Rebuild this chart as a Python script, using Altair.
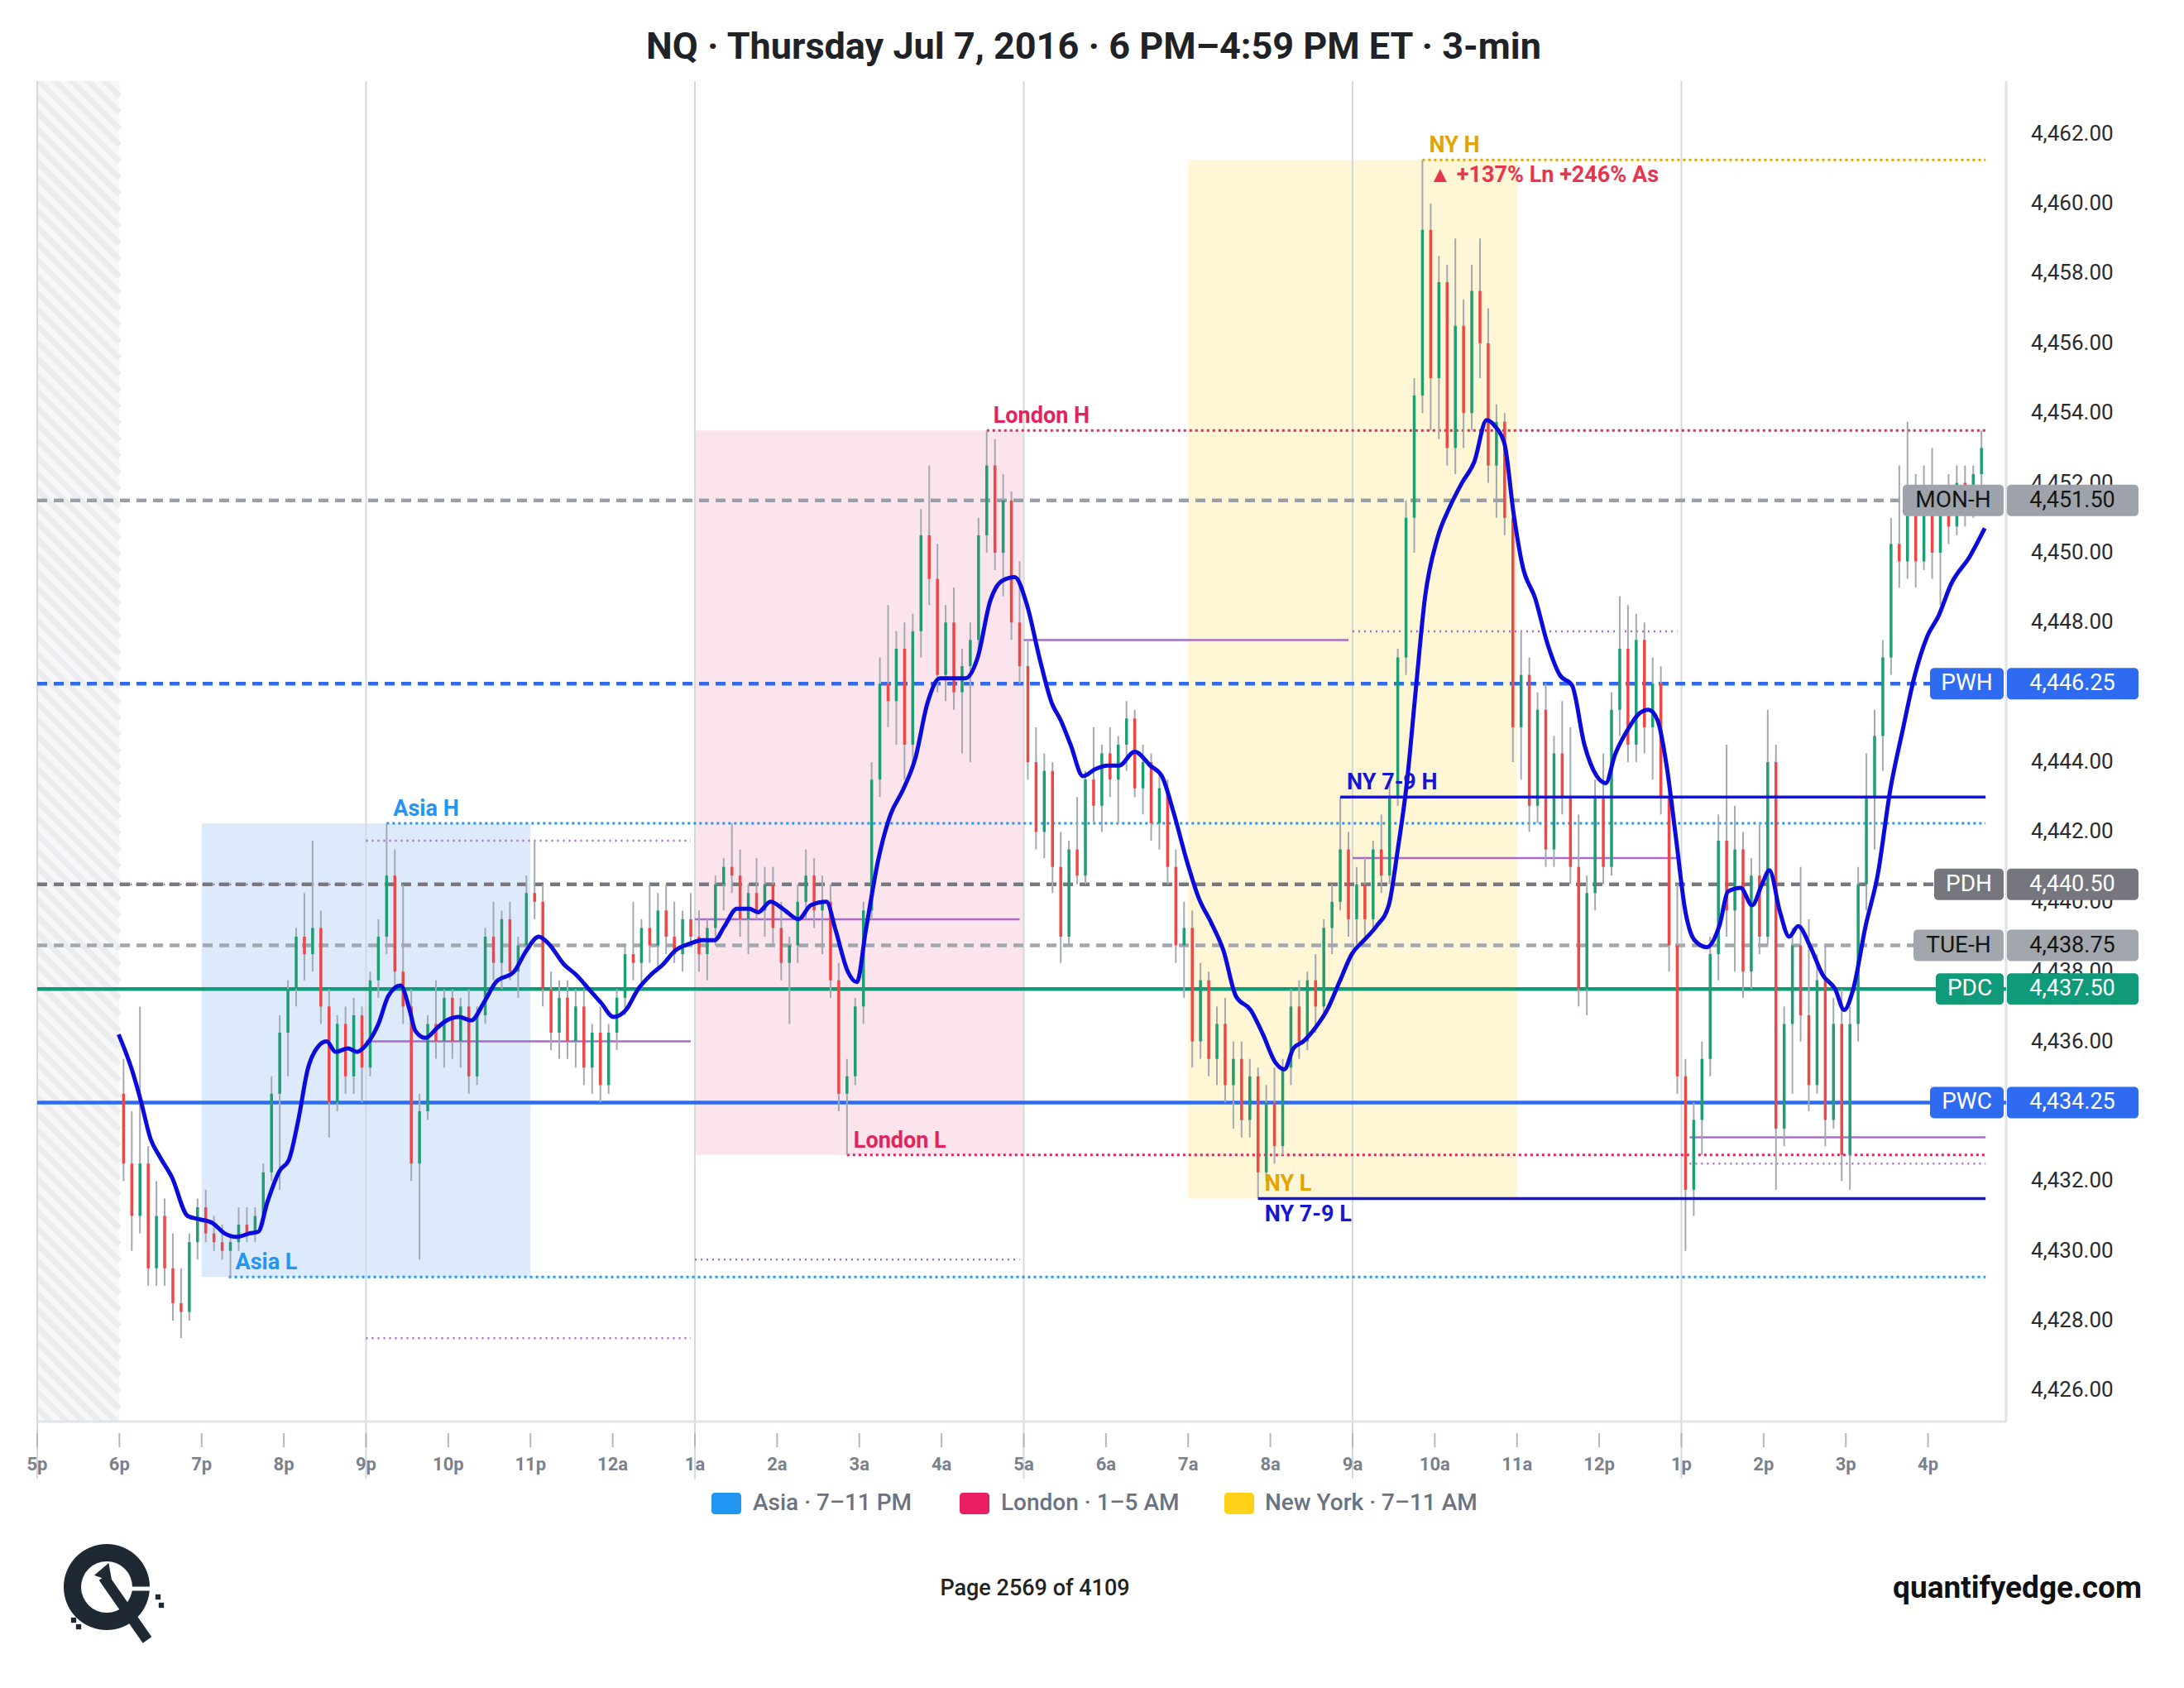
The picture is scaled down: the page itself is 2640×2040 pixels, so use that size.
import altair as alt
import pandas as pd

FONT = "Roboto"
W, H = 2380, 1620
X_MAX = 23.95
Y_MIN, Y_MAX = 4425.11, 4463.51

TITLE = "NQ · Thursday Jul 7, 2016 · 6 PM–4:59 PM ET · 3-min"
X_LABELS = ["5p", "6p", "7p", "8p", "9p", "10p", "11p", "12a", "1a", "2a", "3a", "4a",
            "5a", "6a", "7a", "8a", "9a", "10a", "11a", "12p", "1p", "2p", "3p", "4p"]
Y_TICKS = [4426, 4428, 4430, 4432, 4434, 4436, 4438, 4440, 4442, 4444, 4446, 4448,
           4450, 4452, 4454, 4456, 4458, 4460, 4462]
GRID_HOURS = [0, 4, 8, 12, 16, 20]

# ---- 6-minute bars from 6 PM (hours after 5 PM) ----
BAR_START, BAR_STEP = 1.0, 0.1
OPEN = [
    4434.5, 4432.5, 4431.0, 4432.5, 4429.5, 4431.0, 4429.5, 4428.5, 4428.25, 4430.25,
    4431.25, 4430.5, 4430.25, 4430.0, 4430.25, 4430.75, 4430.5, 4431.0, 4432.25, 4434.5,
    4436.25, 4437.5, 4439.0, 4438.5, 4439.25, 4437.0, 4434.25, 4436.5, 4435.0, 4436.75,
    4435.25, 4437.75, 4439.0, 4440.75, 4438.0, 4437.0, 4432.5, 4434.0, 4436.5, 4436.0,
    4437.25, 4436.0, 4437.0, 4435.0, 4436.75, 4439.0, 4438.25, 4439.5, 4438.0, 4438.75,
    4440.25, 4440.0, 4437.5, 4436.25, 4437.25, 4436.0, 4437.0, 4435.25, 4436.25, 4434.75,
    4436.25, 4437.25, 4438.5, 4438.25, 4439.25, 4438.75, 4439.75, 4439.0, 4438.5, 4439.5,
    4439.0, 4438.5, 4439.25, 4440.5, 4441.0, 4440.75, 4439.5, 4440.25, 4439.75, 4440.5,
    4439.25, 4438.25, 4438.75, 4440.0, 4440.75, 4439.75, 4440.0, 4437.75, 4434.5, 4435.0,
    4437.0, 4439.75, 4443.5, 4446.25, 4445.75, 4447.25, 4444.5, 4447.75, 4450.5, 4449.25,
    4446.5, 4448.0, 4446.0, 4446.75, 4447.5, 4450.5, 4452.5, 4450.0, 4451.5, 4448.0,
    4446.75, 4444.0, 4442.0, 4443.75, 4441.0, 4439.0, 4441.5, 4440.75, 4443.5, 4442.75,
    4444.25, 4443.5, 4444.5, 4445.25, 4443.25, 4444.0, 4442.25, 4443.25, 4441.0, 4438.75,
    4439.25, 4436.0, 4437.75, 4435.5, 4436.5, 4434.75, 4435.5, 4433.75, 4435.0, 4432.25,
    4434.25, 4433.0, 4435.25, 4437.0, 4436.0, 4437.75, 4437.0, 4439.25, 4440.0, 4441.5,
    4439.5, 4440.5, 4439.5, 4441.5, 4440.75, 4443.0, 4447.0, 4451.0, 4454.5, 4459.25,
    4455.0, 4457.75, 4453.0, 4456.5, 4454.0, 4457.5, 4456.0, 4452.5, 4453.75, 4451.0,
    4445.0, 4446.5, 4442.75, 4445.5, 4441.5, 4444.25, 4443.0, 4441.0, 4437.5, 4440.25,
    4443.0, 4441.0, 4445.5, 4447.25, 4444.5, 4447.5, 4445.0, 4446.25, 4443.0, 4438.75,
    4435.0, 4431.75, 4433.75, 4435.5, 4438.5, 4441.75, 4439.75, 4441.5, 4438.0, 4440.75,
    4439.0, 4444.0, 4433.5, 4436.5, 4438.75, 4436.75, 4434.75, 4437.75, 4433.75, 4436.5,
    4432.75, 4436.5, 4440.5, 4443.0, 4444.75, 4447.0, 4450.25, 4449.75, 4451.5, 4449.75,
    4451.75, 4450.0, 4451.25, 4450.75, 4452.0, 4451.25, 4452.25,
]
HIGH = [
    4435.5, 4434.0, 4437.0, 4433.0, 4432.0, 4431.5, 4430.5, 4429.5, 4430.5, 4431.5,
    4431.75, 4431.0, 4430.75, 4430.5, 4431.25, 4431.25, 4431.25, 4432.5, 4435.0, 4436.75,
    4437.75, 4439.25, 4440.25, 4441.75, 4439.75, 4437.5, 4436.75, 4437.0, 4437.25, 4437.0,
    4438.0, 4439.5, 4442.25, 4441.5, 4440.5, 4437.5, 4434.5, 4436.75, 4437.75, 4437.5,
    4437.5, 4437.25, 4437.5, 4437.0, 4439.25, 4440.0, 4439.75, 4440.0, 4439.0, 4440.75,
    4441.75, 4440.5, 4438.0, 4437.75, 4437.75, 4437.5, 4437.5, 4436.5, 4437.0, 4436.5,
    4437.5, 4438.75, 4440.0, 4439.5, 4440.5, 4440.25, 4440.5, 4440.0, 4439.75, 4440.25,
    4439.75, 4439.5, 4440.75, 4441.25, 4442.25, 4441.5, 4440.5, 4441.25, 4441.0, 4441.0,
    4440.0, 4439.0, 4440.5, 4441.5, 4441.25, 4440.75, 4440.5, 4438.25, 4435.5, 4437.25,
    4440.0, 4444.0, 4447.0, 4448.5, 4447.75, 4448.0, 4448.25, 4451.25, 4452.5, 4450.25,
    4448.5, 4449.0, 4447.25, 4448.0, 4451.0, 4453.5, 4453.25, 4452.25, 4451.75, 4449.75,
    4447.5, 4445.0, 4444.25, 4444.0, 4442.0, 4441.75, 4443.0, 4443.75, 4445.0, 4444.5,
    4445.0, 4444.75, 4445.75, 4445.5, 4444.5, 4444.25, 4443.75, 4443.5, 4441.5, 4440.0,
    4439.75, 4438.25, 4438.0, 4437.0, 4437.25, 4436.0, 4436.0, 4435.5, 4435.25, 4434.75,
    4435.25, 4435.5, 4437.5, 4437.75, 4438.0, 4438.5, 4439.5, 4440.5, 4443.0, 4442.0,
    4441.0, 4441.25, 4441.75, 4442.5, 4443.5, 4447.25, 4451.5, 4455.0, 4461.25, 4460.0,
    4458.5, 4458.25, 4459.0, 4457.25, 4458.25, 4459.0, 4457.0, 4454.25, 4454.0, 4451.5,
    4447.75, 4447.0, 4446.0, 4446.25, 4444.75, 4445.75, 4445.0, 4442.5, 4440.75, 4443.5,
    4444.25, 4446.0, 4448.75, 4448.5, 4448.25, 4448.0, 4447.0, 4446.75, 4443.5, 4440.5,
    4435.5, 4434.25, 4436.0, 4439.0, 4442.5, 4444.5, 4442.75, 4442.0, 4441.25, 4442.25,
    4445.5, 4444.5, 4437.0, 4439.25, 4441.0, 4439.5, 4438.5, 4438.75, 4437.25, 4437.5,
    4437.0, 4441.0, 4444.25, 4445.5, 4447.5, 4451.0, 4452.5, 4453.75, 4452.25, 4452.5,
    4453.0, 4451.75, 4452.25, 4452.5, 4452.5, 4452.5, 4453.5,
]
LOW = [
    4432.0, 4430.0, 4430.5, 4429.0, 4429.0, 4429.0, 4428.0, 4427.5, 4428.0, 4429.75,
    4430.25, 4430.0, 4429.75, 4429.25, 4430.0, 4430.25, 4430.25, 4430.75, 4432.0, 4431.75,
    4435.0, 4437.0, 4437.75, 4438.0, 4436.5, 4433.25, 4434.0, 4434.5, 4434.5, 4434.25,
    4435.0, 4437.25, 4438.5, 4437.5, 4436.5, 4432.0, 4429.75, 4433.75, 4435.5, 4435.25,
    4435.5, 4435.25, 4434.5, 4434.75, 4436.5, 4437.75, 4437.5, 4437.75, 4437.25, 4438.5,
    4439.5, 4437.0, 4435.75, 4435.5, 4435.5, 4435.25, 4434.75, 4434.5, 4434.25, 4434.5,
    4435.75, 4436.75, 4437.75, 4437.5, 4438.25, 4438.0, 4438.5, 4438.25, 4438.0, 4438.75,
    4438.0, 4437.75, 4438.75, 4439.75, 4440.25, 4439.0, 4438.5, 4439.5, 4439.0, 4438.75,
    4437.75, 4436.5, 4438.25, 4439.5, 4439.25, 4438.5, 4437.25, 4434.0, 4432.75, 4434.75,
    4436.5, 4439.5, 4443.0, 4445.0, 4444.5, 4443.5, 4444.0, 4447.0, 4448.5, 4446.0,
    4445.75, 4445.5, 4444.25, 4444.0, 4447.0, 4450.0, 4449.5, 4448.75, 4447.5, 4446.25,
    4443.5, 4441.5, 4441.25, 4440.25, 4438.25, 4438.75, 4440.5, 4440.5, 4442.25, 4442.0,
    4443.0, 4442.25, 4443.75, 4443.0, 4442.5, 4441.75, 4441.5, 4440.5, 4438.25, 4437.25,
    4435.25, 4435.5, 4435.0, 4434.75, 4434.25, 4433.5, 4433.25, 4433.25, 4431.5, 4432.0,
    4432.5, 4432.75, 4434.75, 4435.5, 4435.75, 4436.25, 4436.75, 4438.5, 4439.75, 4439.0,
    4438.75, 4439.0, 4439.25, 4440.25, 4440.5, 4442.75, 4446.5, 4450.0, 4454.0, 4453.5,
    4453.25, 4452.5, 4452.25, 4453.0, 4453.5, 4455.0, 4452.0, 4451.0, 4450.5, 4444.0,
    4443.5, 4442.0, 4442.25, 4441.0, 4441.0, 4442.5, 4440.5, 4437.0, 4436.75, 4439.75,
    4440.5, 4440.75, 4444.75, 4444.0, 4444.0, 4444.25, 4443.5, 4442.5, 4438.0, 4434.5,
    4430.0, 4431.0, 4432.75, 4435.0, 4437.75, 4439.0, 4438.0, 4437.25, 4437.5, 4438.5,
    4438.75, 4431.75, 4433.0, 4434.5, 4436.0, 4434.0, 4434.5, 4433.0, 4433.5, 4432.0,
    4431.75, 4436.0, 4439.75, 4441.5, 4443.75, 4446.5, 4449.0, 4449.25, 4449.0, 4449.5,
    4449.25, 4448.5, 4450.25, 4450.5, 4450.75, 4451.0, 4451.75,
]
CLOSE = [
    4432.5, 4431.0, 4432.5, 4429.5, 4431.0, 4429.5, 4428.5, 4428.25, 4430.25, 4431.25,
    4430.5, 4430.25, 4430.0, 4430.25, 4430.75, 4430.5, 4431.0, 4432.25, 4434.5, 4436.25,
    4437.5, 4439.0, 4438.5, 4439.25, 4437.0, 4434.25, 4436.5, 4435.0, 4436.75, 4435.25,
    4437.75, 4439.0, 4440.75, 4438.0, 4437.0, 4432.5, 4434.0, 4436.5, 4436.0, 4437.25,
    4436.0, 4437.0, 4435.0, 4436.75, 4439.0, 4438.25, 4439.5, 4438.0, 4438.75, 4440.25,
    4440.0, 4437.5, 4436.25, 4437.25, 4436.0, 4437.0, 4435.25, 4436.25, 4434.75, 4436.25,
    4437.25, 4438.5, 4438.25, 4439.25, 4438.75, 4439.75, 4439.0, 4438.5, 4439.5, 4439.0,
    4438.5, 4439.25, 4440.5, 4441.0, 4440.75, 4439.5, 4440.25, 4439.75, 4440.5, 4439.25,
    4438.25, 4438.75, 4440.0, 4440.75, 4439.75, 4440.0, 4437.75, 4434.5, 4435.0, 4437.0,
    4439.75, 4443.5, 4446.25, 4445.75, 4447.25, 4444.5, 4447.75, 4450.5, 4449.25, 4446.5,
    4448.0, 4446.0, 4446.75, 4447.5, 4450.5, 4452.5, 4450.0, 4451.5, 4448.0, 4446.75,
    4444.0, 4442.0, 4443.75, 4441.0, 4439.0, 4441.5, 4440.75, 4443.5, 4442.75, 4444.25,
    4443.5, 4444.5, 4445.25, 4443.25, 4444.0, 4442.25, 4443.25, 4441.0, 4438.75, 4439.25,
    4436.0, 4437.75, 4435.5, 4436.5, 4434.75, 4435.5, 4433.75, 4435.0, 4432.25, 4434.25,
    4433.0, 4435.25, 4437.0, 4436.0, 4437.75, 4437.0, 4439.25, 4440.0, 4441.5, 4439.5,
    4440.5, 4439.5, 4441.5, 4440.75, 4443.0, 4447.0, 4451.0, 4454.5, 4459.25, 4455.0,
    4457.75, 4453.0, 4456.5, 4454.0, 4457.5, 4456.0, 4452.5, 4453.75, 4451.0, 4445.0,
    4446.5, 4442.75, 4445.5, 4441.5, 4444.25, 4443.0, 4441.0, 4437.5, 4440.25, 4443.0,
    4441.0, 4445.5, 4447.25, 4444.5, 4447.5, 4445.0, 4446.25, 4443.0, 4438.75, 4435.0,
    4431.75, 4433.75, 4435.5, 4438.5, 4441.75, 4439.75, 4441.5, 4438.0, 4440.75, 4439.0,
    4444.0, 4433.5, 4436.5, 4438.75, 4436.75, 4434.75, 4437.75, 4433.75, 4436.5, 4432.75,
    4436.5, 4440.5, 4443.0, 4444.75, 4447.0, 4450.25, 4449.75, 4451.5, 4449.75, 4451.75,
    4450.0, 4451.25, 4450.75, 4452.0, 4451.25, 4452.25, 4453.0,
]

# ---- moving average (hours after 5 PM, price) ----
EMA_T = [0.99, 1.15, 1.26, 1.38, 1.49, 1.64, 1.83, 1.98, 2.13, 2.28, 2.43, 2.58, 2.69, 2.80,
         2.95, 3.06, 3.18, 3.29, 3.40, 3.52, 3.63, 3.78, 3.89, 4.00, 4.15, 4.27, 4.42, 4.53,
         4.60, 4.72, 4.87, 4.98, 5.13, 5.28, 5.43, 5.58, 5.80, 5.95, 6.10, 6.22, 6.41, 6.56,
         6.71, 6.86, 7.01, 7.16, 7.31, 7.46, 7.61, 7.76, 7.94, 8.09, 8.24, 8.36, 8.51, 8.66,
         8.77, 8.92, 9.07, 9.26, 9.41, 9.60, 9.71, 9.86, 9.97, 10.08, 10.23, 10.38, 10.53,
         10.68, 10.83, 10.98, 11.13, 11.29, 11.44, 11.59, 11.74, 11.89, 12.04, 12.19, 12.34,
         12.45, 12.57, 12.72, 12.87, 13.02, 13.16, 13.35, 13.54, 13.68, 13.83, 13.98, 14.13,
         14.28, 14.43, 14.58, 14.76, 14.91, 15.06, 15.17, 15.28, 15.40, 15.55, 15.69, 15.84,
         15.99, 16.14, 16.29, 16.44, 16.55, 16.66, 16.77, 16.88, 17.03, 17.18, 17.33, 17.48,
         17.63, 17.74, 17.85, 17.96, 18.07, 18.22, 18.37, 18.52, 18.67, 18.82, 18.97, 19.08,
         19.19, 19.34, 19.49, 19.60, 19.71, 19.82, 19.93, 20.05, 20.16, 20.31, 20.46, 20.57,
         20.72, 20.86, 20.98, 21.07, 21.20, 21.31, 21.42, 21.57, 21.72, 21.87, 21.98, 22.09,
         22.24, 22.39, 22.54, 22.69, 22.84, 22.99, 23.13, 23.28, 23.51, 23.69]
EMA_V = [4436.2, 4435.2, 4434.3, 4433.2, 4432.7, 4432.1, 4431.0, 4430.9, 4430.8, 4430.5,
         4430.4, 4430.5, 4430.55, 4431.4, 4432.3, 4432.6, 4433.8, 4435.2, 4435.8, 4436.0,
         4435.7, 4435.8, 4435.7, 4435.9, 4436.5, 4437.3, 4437.6, 4436.9, 4436.3, 4436.1,
         4436.4, 4436.6, 4436.7, 4436.6, 4437.1, 4437.7, 4438.0, 4438.6, 4439.0, 4438.8,
         4438.2, 4437.9, 4437.5, 4437.1, 4436.7, 4436.9, 4437.5, 4437.9, 4438.2, 4438.6,
         4438.8, 4438.9, 4438.9, 4439.3, 4439.8, 4439.8, 4439.7, 4440.0, 4439.8, 4439.5,
         4439.9, 4440.0, 4439.2, 4438.0, 4437.7, 4439.2, 4441.2, 4442.5, 4443.2, 4444.1,
         4445.7, 4446.4, 4446.4, 4446.4, 4447.0, 4448.6, 4449.2, 4449.3, 4448.5, 4447.0,
         4445.7, 4445.2, 4444.5, 4443.6, 4443.8, 4443.9, 4443.9, 4444.3, 4443.9, 4443.6,
         4442.5, 4441.2, 4440.1, 4439.4, 4438.6, 4437.3, 4436.9, 4436.2, 4435.4, 4435.2,
         4435.8, 4436.0, 4436.4, 4436.9, 4437.7, 4438.5, 4438.9, 4439.3, 4439.9, 4441.5,
         4443.4, 4446.1, 4448.7, 4450.4, 4451.3, 4452.0, 4452.6, 4453.8, 4453.6, 4453.1,
         4451.1, 4449.6, 4448.7, 4447.4, 4446.5, 4446.2, 4444.5, 4443.6, 4443.4, 4444.2,
         4444.9, 4445.4, 4445.5, 4445.2, 4443.9, 4441.9, 4439.7, 4438.9, 4438.7, 4439.3,
         4440.3, 4440.4, 4439.9, 4440.5, 4440.9, 4439.7, 4439.0, 4439.3, 4438.7, 4437.9,
         4437.5, 4436.9, 4437.5, 4439.3, 4440.8, 4443.2, 4444.9, 4446.5, 4447.6, 4448.2,
         4449.1, 4449.9, 4450.7]

# ---- sessions ----
SESSION_NAMES = ["Asia · 7–11 PM", "London · 1–5 AM", "New York · 7–11 AM"]
SESSION_START = [2, 8, 14]
SESSION_END = [6, 12, 18]
SESSION_LOW = [4429.25, 4432.75, 4431.5]
SESSION_HIGH = [4442.25, 4453.5, 4461.25]
SESSION_FILL = ["#dceafc", "#fbe4ec", "#fff6d6"]
SESSION_KEY = ["#2196f3", "#e91e63", "#ffd21a"]

# session high / low levels
SLEVEL_NAMES = ["Asia H", "Asia L", "London H", "London L", "NY H", "NY L"]
SLEVEL_PRICE = [4442.25, 4429.25, 4453.5, 4432.75, 4461.25, 4431.5]
SLEVEL_START = [4.25, 2.33, 11.55, 9.85, 16.85, 14.85]
SLEVEL_COLOR = ["#2196f3", "#2196f3", "#e0245e", "#e0245e", "#e3a400", "#e3a400"]
LEVEL_END = 23.7

NY79_NAMES = ["NY 7-9 H", "NY 7-9 L"]
NY79_PRICE = [4443.0, 4431.5]
NY79_START = [15.85, 14.85]

ANNOT_TEXT = "▲ +137% Ln +246% As"
ANNOT_T, ANNOT_P = 16.93, 4460.8

# purple block lines: start, end, price
PURPLE_SOLID = [(4.0, 7.95, 4436.0), (8.0, 11.95, 4439.5), (12.0, 15.95, 4447.5),
                (16.0, 19.95, 4441.25), (20.1, 23.7, 4433.25)]
PURPLE_DOTTED = [(4.0, 7.95, 4441.75), (4.0, 7.95, 4427.5), (8.0, 11.95, 4429.75),
                 (16.0, 19.95, 4447.75), (20.1, 23.7, 4432.5)]
PURPLE_DASHDOT = [(1.0, 4.0, 4440.5)]

# reference levels
LEVEL_NAMES = ["MON-H", "PWH", "PDH", "TUE-H", "PDC", "PWC"]
LEVEL_PRICE = [4451.50, 4446.25, 4440.50, 4438.75, 4437.50, 4434.25]
LEVEL_LINE = ["#9a9ea6", "#2f6bf0", "#77787f", "#a3a7ae", "#0f9a7a", "#2f6bf0"]
LEVEL_DASHED = [True, True, True, True, False, False]
LEVEL_FILL = ["#9ea3ab", "#2f6bf0", "#75767e", "#a2a6ad", "#0f9a7a", "#2f6bf0"]
LEVEL_TEXT = ["#151515", "#ffffff", "#ffffff", "#151515", "#ffffff", "#ffffff"]
LEVEL_BOXW = [122, 89, 84, 109, 82, 89]

PAGE_TEXT = "Page 2569 of 4109"
SITE_TEXT = "quantifyedge.com"

# ------------------------------------------------------------------
xs = alt.Scale(domain=[0, X_MAX], nice=False, zero=False)
ys = alt.Scale(domain=[Y_MIN, Y_MAX], nice=False, zero=False)


def X(f):
    return alt.X(f, type="quantitative", scale=xs, axis=None)


def Y(f):
    return alt.Y(f, type="quantitative", scale=ys, axis=None)


one = pd.DataFrame({"k": [0]})
layers = []

# hatched pre-session zone
hatch = pd.DataFrame({"x0": [0.0], "x1": [1.0], "y0": [Y_MIN], "y1": [Y_MAX]})
layers.append(alt.Chart(hatch).mark_rect(color="#f7f7f9").encode(
    x=X("x0"), x2="x1:Q", y=Y("y0"), y2="y1:Q"))
stripe_rows = []
p0 = Y_MAX + 2.4
while p0 > Y_MIN - 0.1:
    stripe_rows.append({"x0": 0.0, "x1": 1.0, "y0": p0, "y1": p0 - 2.357})
    p0 -= 0.47
layers.append(alt.Chart(pd.DataFrame(stripe_rows)).mark_rule(
    color="#ebecef", strokeWidth=7, clip=True).encode(
    x=X("x0"), x2="x1:Q", y=Y("y0"), y2="y1:Q"))

# session boxes
sess = pd.DataFrame({"s": SESSION_START, "e": SESSION_END, "lo": SESSION_LOW,
                     "hi": SESSION_HIGH, "fill": SESSION_FILL})
layers.append(alt.Chart(sess).mark_rect().encode(
    x=X("s"), x2="e:Q", y=Y("lo"), y2="hi:Q", color=alt.Color("fill:N", scale=None)))

# vertical grid
layers.append(alt.Chart(pd.DataFrame({"h": GRID_HOURS})).mark_rule(
    color="#d5d8dd", strokeWidth=2).encode(x=X("h"), y=alt.value(0), y2=alt.value(1689)))
# frame: bottom and right
layers.append(alt.Chart(one).mark_rule(color="#e0e3e8", strokeWidth=3).encode(
    x=alt.value(0), x2=alt.value(W), y=alt.value(H)))
layers.append(alt.Chart(one).mark_rule(color="#dfe2e7", strokeWidth=3).encode(
    x=alt.value(W), y=alt.value(0), y2=alt.value(H)))

# x axis ticks and labels
xt = pd.DataFrame({"h": list(range(len(X_LABELS))), "lab": X_LABELS})
layers.append(alt.Chart(xt).mark_rule(color="#b3b8c0", strokeWidth=2).encode(
    x=X("h"), y=alt.value(H + 14), y2=alt.value(H + 31)))
layers.append(alt.Chart(xt).mark_text(
    font=FONT, fontSize=22, fontWeight="bold", color="#7b818c", align="center",
    baseline="middle").encode(x=X("h"), y=alt.value(H + 52), text="lab:N"))

# y axis labels (right side); labels fully hidden behind a level tag are left out
shown_ticks = [v for v in Y_TICKS if all(abs(v - p) > 0.3 for p in LEVEL_PRICE)]
yt = pd.DataFrame({"v": shown_ticks, "lab": [f"{v:,.2f}" for v in shown_ticks]})
layers.append(alt.Chart(yt).mark_text(
    font=FONT, fontSize=26, color="#2b2b2b", align="left", baseline="middle").encode(
    x=alt.value(W + 30), y=Y("v"), text="lab:N"))

# purple block lines
for rows, dash in [(PURPLE_SOLID, None), (PURPLE_DOTTED, [2, 5]), (PURPLE_DASHDOT, [8, 5, 2, 5])]:
    df = pd.DataFrame(rows, columns=["s", "e", "p"])
    kw = dict(color="#a05cc4", strokeWidth=2.5, opacity=0.9, clip=True)
    if dash:
        kw["strokeDash"] = dash
    layers.append(alt.Chart(df).mark_rule(**kw).encode(x=X("s"), x2="e:Q", y=Y("p")))

# reference level lines
lev = pd.DataFrame({"name": LEVEL_NAMES, "p": LEVEL_PRICE, "col": LEVEL_LINE,
                    "dashed": LEVEL_DASHED, "s": 0.0, "e": X_MAX})
layers.append(alt.Chart(lev[lev.dashed]).mark_rule(strokeWidth=4.5, strokeDash=[12, 8]).encode(
    x=X("s"), x2="e:Q", y=Y("p"), color=alt.Color("col:N", scale=None)))
layers.append(alt.Chart(lev[~lev.dashed]).mark_rule(strokeWidth=4.5).encode(
    x=X("s"), x2="e:Q", y=Y("p"), color=alt.Color("col:N", scale=None)))

# session level dotted lines
slev = pd.DataFrame({"name": SLEVEL_NAMES, "p": SLEVEL_PRICE, "s": SLEVEL_START,
                     "e": LEVEL_END, "col": SLEVEL_COLOR})
layers.append(alt.Chart(slev).mark_rule(strokeWidth=3, strokeDash=[3, 4]).encode(
    x=X("s"), x2="e:Q", y=Y("p"), color=alt.Color("col:N", scale=None)))

# candles
n = len(CLOSE)
bars = pd.DataFrame({"t": [BAR_START + BAR_STEP * i + BAR_STEP / 2 for i in range(n)],
                     "o": OPEN, "h": HIGH, "l": LOW, "c": CLOSE})
bars["col"] = ["#1e9e72" if c >= o else "#ef4646" for o, c in zip(OPEN, CLOSE)]
layers.append(alt.Chart(bars).mark_rule(color="#a4a9b1", strokeWidth=2, clip=True).encode(
    x=X("t"), y=Y("l"), y2="h:Q"))
layers.append(alt.Chart(bars).mark_rule(strokeWidth=3.5, clip=True).encode(
    x=X("t"), y=Y("o"), y2="c:Q", color=alt.Color("col:N", scale=None)))

# NY 7-9 range lines
ny = pd.DataFrame({"name": NY79_NAMES, "p": NY79_PRICE, "s": NY79_START, "e": LEVEL_END})
layers.append(alt.Chart(ny).mark_rule(color="#1616d0", strokeWidth=3.5).encode(
    x=X("s"), x2="e:Q", y=Y("p")))

# moving average
ema = pd.DataFrame({"t": EMA_T, "v": EMA_V})
layers.append(alt.Chart(ema).mark_line(color="#0b0bdc", strokeWidth=5, interpolate="monotone",
                                       clip=True).encode(x=X("t"), y=Y("v")))

# level labels on the chart
for i, r in slev.iterrows():
    layers.append(alt.Chart(pd.DataFrame([r])).mark_text(
        text=r["name"], font=FONT, fontSize=27, fontWeight="bold", color=r["col"],
        align="left", baseline="alphabetic", dx=8, dy=-9).encode(x=X("s"), y=Y("p")))
for i, r in ny.iterrows():
    below = r["name"].endswith("L")
    layers.append(alt.Chart(pd.DataFrame([r])).mark_text(
        text=r["name"], font=FONT, fontSize=27, fontWeight="bold", color="#1616d0",
        align="left", baseline="alphabetic", dx=8, dy=28 if below else -9).encode(
        x=X("s"), y=Y("p")))
layers.append(alt.Chart(pd.DataFrame({"t": [ANNOT_T], "p": [ANNOT_P]})).mark_text(
    text=ANNOT_TEXT, font=FONT, fontSize=27, fontWeight="bold", color="#e8354f",
    align="left", baseline="middle").encode(x=X("t"), y=Y("p")))

# right-side level tags
for name, p, fill, tcol, bw in zip(LEVEL_NAMES, LEVEL_PRICE, LEVEL_FILL, LEVEL_TEXT, LEVEL_BOXW):
    d = pd.DataFrame({"p": [p], "y0": [p - 0.45], "y1": [p + 0.45]})
    layers.append(alt.Chart(d).mark_rect(color=fill, cornerRadius=5).encode(
        x=alt.value(W - 3 - bw), x2=alt.value(W - 3), y=Y("y0"), y2="y1:Q"))
    layers.append(alt.Chart(d).mark_rect(color=fill, cornerRadius=5).encode(
        x=alt.value(W + 1), x2=alt.value(W + 160), y=Y("y0"), y2="y1:Q"))
    layers.append(alt.Chart(d).mark_text(
        text=name, font=FONT, fontSize=28, color=tcol, align="center", baseline="middle").encode(
        x=alt.value(W - 3 - bw / 2), y=Y("p")))
    layers.append(alt.Chart(d).mark_text(
        text=f"{p:,.2f}", font=FONT, fontSize=27, color=tcol, align="center",
        baseline="middle").encode(x=alt.value(W + 80), y=Y("p")))

# title
layers.append(alt.Chart(one).mark_text(
    text=TITLE, font=FONT, fontSize=45, fontWeight="bold", color="#1f2328",
    align="center", baseline="middle").encode(x=alt.value(1277), y=alt.value(-41)))

# legend
LEG_BOX_X = [815, 1115, 1435]
LEG_TXT_X = [865, 1165, 1484]
for name, col, bx, tx in zip(SESSION_NAMES, SESSION_KEY, LEG_BOX_X, LEG_TXT_X):
    layers.append(alt.Chart(one).mark_rect(color=col, cornerRadius=4).encode(
        x=alt.value(bx), x2=alt.value(bx + 36), y=alt.value(1706), y2=alt.value(1732)))
    layers.append(alt.Chart(one).mark_text(
        text=name, font=FONT, fontSize=28, fontWeight=500, color="#6b7280",
        align="left", baseline="middle").encode(x=alt.value(tx), y=alt.value(1719)))

# footer
layers.append(alt.Chart(one).mark_text(
    text=PAGE_TEXT, font=FONT, fontSize=27, fontWeight=500, color="#222222",
    align="center", baseline="middle").encode(x=alt.value(1206), y=alt.value(1822)))
layers.append(alt.Chart(one).mark_text(
    text=SITE_TEXT, font=FONT, fontSize=37, fontWeight="bold", color="#111111",
    align="right", baseline="middle").encode(x=alt.value(2544), y=alt.value(1822)))

# logo
LOGO = "#1f2933"
layers.append(alt.Chart(one).mark_arc(radius=52, radius2=31, theta=0, theta2=6.2832,
                                      color=LOGO).encode(x=alt.value(84), y=alt.value(1820)))
layers.append(alt.Chart(one).mark_rule(color="#ffffff", strokeWidth=5).encode(
    x=alt.value(112), x2=alt.value(140), y=alt.value(1822), y2=alt.value(1822)))
layers.append(alt.Chart(one).mark_rule(color=LOGO, strokeWidth=13).encode(
    x=alt.value(80), x2=alt.value(133), y=alt.value(1808), y2=alt.value(1884)))
layers.append(alt.Chart(one).mark_point(shape="triangle-right", filled=True, size=520,
                                        angle=50, color=LOGO, opacity=1).encode(
    x=alt.value(84), y=alt.value(1806)))
for dx_, dy_ in [(146, 1832), (150, 1842), (44, 1860), (50, 1868)]:
    layers.append(alt.Chart(one).mark_square(size=40, color=LOGO, opacity=1).encode(
        x=alt.value(dx_), y=alt.value(dy_)))

chart = alt.layer(*layers).properties(
    width=W, height=H,
    autosize=alt.AutoSizeParams(type="none"),
    padding={"left": 45, "top": 98, "right": 215, "bottom": 322},
    background="white",
).configure_view(stroke=None)

chart.save("out.html", embed_options={"renderer": "svg", "actions": False})
